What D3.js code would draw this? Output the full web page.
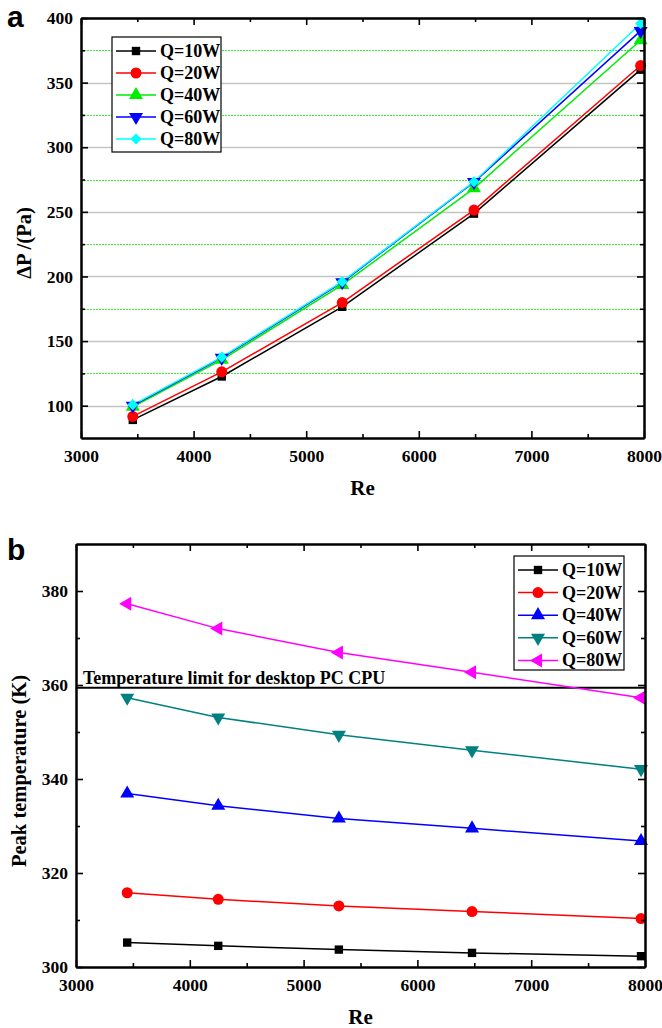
<!DOCTYPE html>
<html>
<head>
<meta charset="utf-8">
<script src="https://cdn.jsdelivr.net/npm/d3@7"></script>
<style>
  body { margin: 0; background: #fff; }
  svg { display: block; }
</style>
</head>
<body>
<svg id="chart" width="662" height="1028"></svg>
<script>
// ---- data ----
var seriesNames = ["Q=10W", "Q=20W", "Q=40W", "Q=60W", "Q=80W"];

// panel a : pressure drop
var reA = [3460, 4250, 5320, 6490, 7970];
var dpQ10 = [89.0, 122.6, 176.5, 248.6, 360.0];
var dpQ20 = [91.7, 126.2, 179.8, 251.4, 363.2];
var dpQ40 = [99.2, 135.5, 193.5, 268.2, 382.8];
var dpQ60 = [100.0, 137.0, 195.5, 273.0, 390.0];
var dpQ80 = [100.7, 137.6, 196.0, 273.3, 395.7];

// panel b : peak temperature
var reB = [3450, 4250, 5310, 6480, 7965];
var tQ10 = [305.2, 304.5, 303.7, 303.0, 302.3];
var tQ20 = [315.8, 314.4, 313.0, 311.8, 310.3];
var tQ40 = [336.9, 334.3, 331.6, 329.5, 326.8];
var tQ60 = [357.3, 353.1, 349.4, 346.1, 342.1];
var tQ80 = [377.3, 372.0, 366.9, 362.7, 357.3];
var tempLimit = 359.4;

var xTicks = [3000, 4000, 5000, 6000, 7000, 8000];
var xMinor = [3500, 4500, 5500, 6500, 7500];
var yTicksA = [100, 150, 200, 250, 300, 350, 400];
var yMinorA = [125, 175, 225, 275, 325, 375];
var yTicksB = [300, 320, 340, 360, 380];
var yMinorB = [310, 330, 350, 370];

var svg = d3.select("#chart");
var serif = "Liberation Serif, Times New Roman, serif";

function marker(kind, size) {
  var sym = {
    square: d3.symbolSquare, circle: d3.symbolCircle, up: d3.symbolTriangle,
    down: d3.symbolTriangle, left: d3.symbolTriangle, diamond: d3.symbolSquare
  }[kind];
  return d3.symbol().type(sym).size(size)();
}
function markerRot(kind) {
  if (kind == "down") return " rotate(180)";
  if (kind == "left") return " rotate(-90)";
  if (kind == "diamond") return " rotate(45)";
  return "";
}
var markerSize = { square: 70, circle: 95, up: 85, down: 85, left: 85, diamond: 62 };

function drawPanel(cfg) {
  var g = svg.append("g");
  var x = d3.scaleLinear().domain([3000, 8000]).range([cfg.left, cfg.right]);
  var y = d3.scaleLinear().domain(cfg.yDomain).range([cfg.bottom, cfg.top]);

  // grid (panel a only)
  if (cfg.grid) {
    g.append("g").selectAll("line").data(cfg.yTicks).enter().append("line")
      .attr("x1", cfg.left).attr("x2", cfg.right)
      .attr("y1", function(d) { return Math.round(y(d)) + 0.5; }).attr("y2", function(d) { return Math.round(y(d)) + 0.5; })
      .attr("stroke", "#c4c4c4").attr("stroke-width", 1.3);
    g.append("g").selectAll("line").data(cfg.yMinor).enter().append("line")
      .attr("x1", cfg.left).attr("x2", cfg.right)
      .attr("y1", function(d) { return Math.round(y(d)) + 0.5; }).attr("y2", function(d) { return Math.round(y(d)) + 0.5; })
      .attr("stroke", "#33ee33").attr("stroke-width", 1).attr("stroke-dasharray", "2,1")
      .attr("shape-rendering", "crispEdges");
  }

  if (cfg.limit != null) {
    g.append("line")
      .attr("x1", cfg.left).attr("x2", cfg.right)
      .attr("y1", y(cfg.limit)).attr("y2", y(cfg.limit))
      .attr("stroke", "black").attr("stroke-width", 2);
    g.append("text")
      .text("Temperature limit for desktop PC CPU")
      .attr("x", cfg.left + 7).attr("y", y(cfg.limit) - 4)
      .style("font-family", serif).style("font-weight", "bold").style("font-size", "18px");
  }

  // series
  var line = d3.line().x(function(d) { return x(d[0]); }).y(function(d) { return y(d[1]); });
  cfg.series.forEach(function(s) {
    var pts = cfg.xs.map(function(v, i) { return [v, s.values[i]]; });
    g.append("path").datum(pts)
      .attr("d", line).attr("fill", "none")
      .attr("stroke", s.color).attr("stroke-width", 1.5);
  });
  cfg.series.forEach(function(s) {
    var pts = cfg.xs.map(function(v, i) { return [v, s.values[i]]; });
    g.append("g").selectAll("path").data(pts).enter().append("path")
      .attr("d", marker(s.shape, markerSize[s.shape]))
      .attr("transform", function(d) { return "translate(" + x(d[0]) + "," + y(d[1]) + ")" + markerRot(s.shape); })
      .attr("fill", s.color);
  });

  // axes, ticks pointing inward
  function styleAxis(sel) {
    sel.attr("font-family", serif);
    sel.select(".domain").attr("stroke-width", 2);
    sel.selectAll(".tick line").attr("stroke-width", 1.6);
    sel.selectAll("text").style("font-family", serif).style("font-weight", "bold")
      .style("font-size", "17.5px").attr("fill", "black");
  }
  g.append("g").attr("transform", "translate(0," + cfg.bottom + ")")
    .call(d3.axisBottom(x).tickValues(xTicks).tickSize(-7).tickSizeOuter(0).tickPadding(12).tickFormat(d3.format("d")))
    .call(styleAxis);
  g.append("g").attr("transform", "translate(0," + cfg.bottom + ")")
    .call(d3.axisBottom(x).tickValues(xMinor).tickSize(-4).tickSizeOuter(0).tickFormat(""))
    .call(styleAxis);
  g.append("g").attr("transform", "translate(0," + cfg.top + ")")
    .call(d3.axisTop(x).tickValues(xTicks).tickSize(-7).tickSizeOuter(0).tickFormat(""))
    .call(styleAxis);
  g.append("g").attr("transform", "translate(0," + cfg.top + ")")
    .call(d3.axisTop(x).tickValues(xMinor).tickSize(-4).tickSizeOuter(0).tickFormat(""))
    .call(styleAxis);
  g.append("g").attr("transform", "translate(" + cfg.left + ",0)")
    .call(d3.axisLeft(y).tickValues(cfg.yTicks).tickSize(-7).tickSizeOuter(0).tickPadding(8).tickFormat(d3.format("d")))
    .call(styleAxis);
  g.append("g").attr("transform", "translate(" + cfg.left + ",0)")
    .call(d3.axisLeft(y).tickValues(cfg.yMinor).tickSize(-4).tickSizeOuter(0).tickFormat(""))
    .call(styleAxis);
  g.append("g").attr("transform", "translate(" + cfg.right + ",0)")
    .call(d3.axisRight(y).tickValues(cfg.yTicks).tickSize(-7).tickSizeOuter(0).tickFormat(""))
    .call(styleAxis);
  g.append("g").attr("transform", "translate(" + cfg.right + ",0)")
    .call(d3.axisRight(y).tickValues(cfg.yMinor).tickSize(-4).tickSizeOuter(0).tickFormat(""))
    .call(styleAxis);

  // axis titles
  g.append("text").text("Re")
    .attr("x", (cfg.left + cfg.right) / 2).attr("y", cfg.bottom + 57)
    .attr("text-anchor", "middle")
    .style("font-family", serif).style("font-weight", "bold").style("font-size", "21px");
  g.append("text").text(cfg.yTitle)
    .attr("transform", "translate(" + cfg.yTitleX + "," + cfg.yTitleY + ") rotate(-90)")
    .attr("text-anchor", "middle")
    .style("font-family", serif).style("font-weight", "bold").style("font-size", "20.5px");

  // panel letter
  g.append("text").text(cfg.letter)
    .attr("x", 7).attr("y", cfg.letterY)
    .style("font-family", "Liberation Sans, Arial, sans-serif").style("font-weight", "bold").style("font-size", "30px");

  // legend
  var lg = g.append("g");
  lg.append("rect")
    .attr("x", cfg.legend.x).attr("y", cfg.legend.y)
    .attr("width", cfg.legend.w).attr("height", cfg.legend.h)
    .attr("fill", "white").attr("stroke", "black").attr("stroke-width", 1.2);
  cfg.series.forEach(function(s, i) {
    var cy = cfg.legend.y + 14 + i * cfg.legend.step;
    var lx = cfg.legend.x + 4;
    lg.append("line").attr("x1", lx).attr("x2", lx + 40).attr("y1", cy).attr("y2", cy)
      .attr("stroke", s.color).attr("stroke-width", 1.5);
    lg.append("path").attr("d", marker(s.shape, markerSize[s.shape]))
      .attr("transform", "translate(" + (lx + 20) + "," + cy + ")" + markerRot(s.shape))
      .attr("fill", s.color);
    lg.append("text").text(s.name)
      .attr("x", lx + 44).attr("y", cy + 6)
      .style("font-family", serif).style("font-weight", "bold").style("font-size", "18px");
  });
}

drawPanel({
  left: 81, right: 644, top: 18, bottom: 438,
  yDomain: [75, 400], yTicks: yTicksA, yMinor: yMinorA, grid: true,
  xs: reA, yTitle: "\u0394P /(Pa)", yTitleX: 31, yTitleY: 243, letter: "a", letterY: 27,
  legend: { x: 112, y: 37, w: 109, h: 115, step: 22 },
  series: [
    { name: seriesNames[0], values: dpQ10, color: "black", shape: "square" },
    { name: seriesNames[1], values: dpQ20, color: "#ff0000", shape: "circle" },
    { name: seriesNames[2], values: dpQ40, color: "#00ee00", shape: "up" },
    { name: seriesNames[3], values: dpQ60, color: "#0000ff", shape: "down" },
    { name: seriesNames[4], values: dpQ80, color: "#00ffff", shape: "diamond" }
  ]
});

drawPanel({
  left: 76, right: 645, top: 544, bottom: 967,
  yDomain: [300, 390], yTicks: yTicksB, yMinor: yMinorB, grid: false, limit: tempLimit,
  xs: reB, yTitle: "Peak temperature (K)", yTitleX: 26, yTitleY: 771, letter: "b", letterY: 560,
  legend: { x: 514, y: 556, w: 110, h: 114, step: 22.6 },
  series: [
    { name: seriesNames[0], values: tQ10, color: "black", shape: "square" },
    { name: seriesNames[1], values: tQ20, color: "#ff0000", shape: "circle" },
    { name: seriesNames[2], values: tQ40, color: "#0000ff", shape: "up" },
    { name: seriesNames[3], values: tQ60, color: "#008080", shape: "down" },
    { name: seriesNames[4], values: tQ80, color: "#ff00ff", shape: "left" }
  ]
});
</script>
</body>
</html>
